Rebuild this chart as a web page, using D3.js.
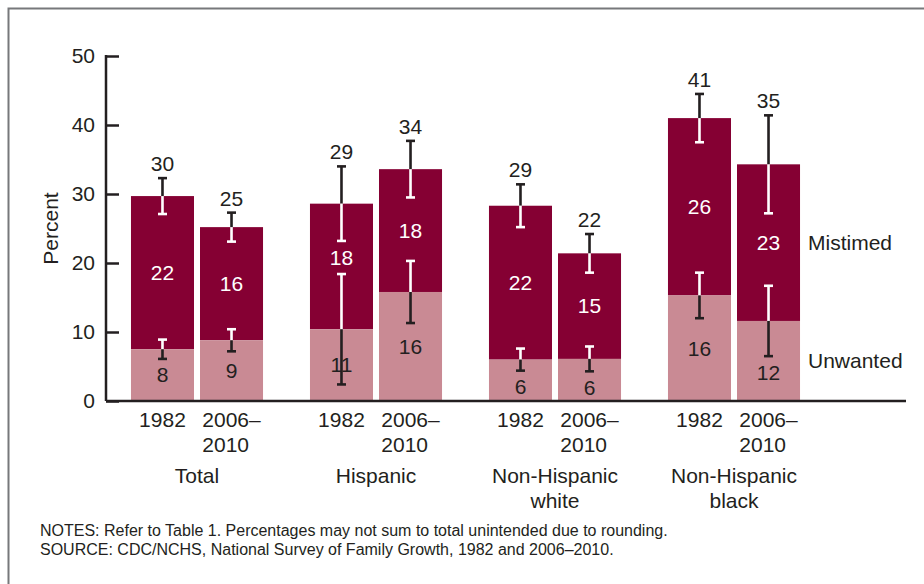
<!DOCTYPE html>
<html>
<head>
<meta charset="utf-8">
<style>
  body { margin: 0; background: #fff; }
  svg { display: block; font-family: "Liberation Sans", Arial, sans-serif; }
</style>
</head>
<body>
<svg width="924" height="584"></svg>
<script src="https://d3js.org/d3.v7.min.js"></script>
<script>

// data
var groups = ["Total", "Hispanic", "Non-Hispanic white", "Non-Hispanic black"];
var groupLines = [["Total"], ["Hispanic"], ["Non-Hispanic", "white"], ["Non-Hispanic", "black"]];
var years = ["1982", "2006–2010"];
var yearLines = [["1982"], ["2006–", "2010"]];

// one entry per bar: group order, then year
var unwanted      = [7.5, 8.8, 10.4, 15.8, 6.0, 6.1, 15.3, 11.6];
var mistimed      = [22.2, 16.4, 18.2, 17.8, 22.3, 15.3, 25.7, 22.7];
var unwantedLabel = [8, 9, 11, 16, 6, 6, 16, 12];
var mistimedLabel = [22, 16, 18, 18, 22, 15, 26, 23];
var totalLabel    = [30, 25, 29, 34, 29, 22, 41, 35];
var unwantedErr   = [1.4, 1.6, 8.0, 4.5, 1.6, 1.8, 3.3, 5.1];
var totalErr      = [2.6, 2.1, 5.4, 4.1, 3.1, 2.8, 3.5, 7.1];

var yTicks = [0, 10, 20, 30, 40, 50];

var ink = "#231f20",
    darkColor = "#850033",
    lightColor = "#c98a94",
    fs = "21px";

var svg = d3.select("svg");

// frame round the figure (open to the right and bottom)
svg.append("path")
    .attr("d", "M8.5,584V8.5H924")
    .attr("fill", "none")
    .attr("stroke", "#77787b")
    .attr("stroke-width", 2);

var x0 = d3.scaleBand()
    .domain(groups)
    .range([107.5, 823.5]);

var x1 = d3.scaleBand()
    .domain(years)
    .range([0, x0.bandwidth()])
    .paddingInner(0.087)
    .paddingOuter(0.34);

var y = d3.scaleLinear()
    .domain([0, 50])
    .range([401, 56]);

var bars = [];
groups.forEach(function(g, gi) {
  years.forEach(function(yr, yi) {
    var i = gi * 2 + yi;
    bars.push({
      group: g, year: yr, i: i,
      unwanted: unwanted[i],
      total: unwanted[i] + mistimed[i]
    });
  });
});

function bx(d) { return x0(d.group) + x1(d.year); }
function cx(d) { return bx(d) + x1.bandwidth() / 2; }

var g = svg.append("g");

// stacked bars
g.selectAll(".mis").data(bars).enter().append("rect")
    .attr("x", bx)
    .attr("width", x1.bandwidth())
    .attr("y", function(d) { return y(d.total); })
    .attr("height", function(d) { return y(d.unwanted) - y(d.total); })
    .attr("fill", darkColor);

g.selectAll(".unw").data(bars).enter().append("rect")
    .attr("x", bx)
    .attr("width", x1.bandwidth())
    .attr("y", function(d) { return y(d.unwanted); })
    .attr("height", function(d) { return y(0) - y(d.unwanted); })
    .attr("fill", lightColor);

// error bars: the half over the dark segment is white
function errorBar(x, v, e, topColor, bottomColor) {
  var top = y(v + e), mid = y(v), bot = y(v - e), cap = 4.5;
  g.append("line").attr("x1", x).attr("x2", x).attr("y1", top).attr("y2", mid)
      .attr("stroke", topColor).attr("stroke-width", 2.6);
  g.append("line").attr("x1", x - cap).attr("x2", x + cap).attr("y1", top).attr("y2", top)
      .attr("stroke", topColor).attr("stroke-width", 2.6);
  g.append("line").attr("x1", x).attr("x2", x).attr("y1", mid).attr("y2", bot)
      .attr("stroke", bottomColor).attr("stroke-width", 2.6);
  g.append("line").attr("x1", x - cap).attr("x2", x + cap).attr("y1", bot).attr("y2", bot)
      .attr("stroke", bottomColor).attr("stroke-width", 2.6);
}

bars.forEach(function(d) {
  errorBar(cx(d), d.total, totalErr[d.i], ink, "#fff");
  errorBar(cx(d), d.unwanted, unwantedErr[d.i], "#fff", ink);
});

// value labels
g.selectAll(".tl").data(bars).enter().append("text")
    .attr("x", cx)
    .attr("y", function(d) { return y(d.total + totalErr[d.i]) - 7; })
    .attr("text-anchor", "middle")
    .attr("fill", ink)
    .style("font-size", fs)
    .text(function(d) { return totalLabel[d.i]; });

// mistimed label: segment middle, or the gap between the two error bars if it would hit one
function misY(d) {
  var mid = (y(d.total) + y(d.unwanted)) / 2,
      a = y(d.total - totalErr[d.i]),
      b = y(d.unwanted + unwantedErr[d.i]);
  if (mid - 9 < a || mid + 9 > b) return (a + b) / 2;
  return mid;
}

// unwanted label: segment middle, or just under the error bar if it would hit it
function unwY(d) {
  var mid = (y(d.unwanted) + y(0)) / 2,
      b = y(d.unwanted - unwantedErr[d.i]);
  if (b > mid - 10 && b + 24 < y(0)) return b + 16;
  return mid;
}

g.selectAll(".ml").data(bars).enter().append("text")
    .attr("x", cx)
    .attr("y", misY)
    .attr("dy", "0.35em")
    .attr("text-anchor", "middle")
    .attr("fill", "#fff")
    .style("font-size", fs)
    .text(function(d) { return mistimedLabel[d.i]; });

g.selectAll(".ul").data(bars).enter().append("text")
    .attr("x", cx)
    .attr("y", unwY)
    .attr("dy", "0.35em")
    .attr("text-anchor", "middle")
    .attr("fill", ink)
    .style("font-size", fs)
    .text(function(d) { return unwantedLabel[d.i]; });

// y axis
var yAxis = svg.append("g")
    .attr("transform", "translate(106,0)")
    .call(d3.axisRight(y).tickValues(yTicks).tickSize(13).tickFormat(d3.format("d")));
yAxis.select(".domain").remove();
yAxis.selectAll(".tick line").attr("stroke", ink).attr("stroke-width", 2.5);
yAxis.selectAll(".tick text")
    .attr("x", -11)
    .attr("text-anchor", "end")
    .attr("fill", ink)
    .style("font-size", fs)
    .style("font-family", "Liberation Sans, Arial, sans-serif");

svg.append("line")
    .attr("x1", 106).attr("x2", 106)
    .attr("y1", y(50) - 1).attr("y2", y(0))
    .attr("stroke", ink).attr("stroke-width", 2.5);

// x axis line
svg.append("line")
    .attr("x1", 106).attr("x2", 906)
    .attr("y1", y(0)).attr("y2", y(0))
    .attr("stroke", ink).attr("stroke-width", 2.5);

svg.append("text")
    .attr("transform", "translate(58," + (y(25)) + ") rotate(-90)")
    .attr("text-anchor", "middle")
    .attr("fill", ink)
    .style("font-size", fs)
    .text("Percent");

// year labels: first line centred on the bar, second line left-aligned under it
bars.forEach(function(d) {
  var lines = yearLines[years.indexOf(d.year)];
  var first = svg.append("text")
      .attr("x", cx(d))
      .attr("y", 427)
      .attr("text-anchor", "middle")
      .attr("fill", ink)
      .style("font-size", fs)
      .text(lines[0]);
  var left = cx(d) - first.node().getComputedTextLength() / 2;
  lines.slice(1).forEach(function(t, k) {
    svg.append("text")
        .attr("x", left)
        .attr("y", 427 + (k + 1) * 25)
        .attr("fill", ink)
        .style("font-size", fs)
        .text(t);
  });
});

// group labels
groups.forEach(function(gr, gi) {
  groupLines[gi].forEach(function(t, k) {
    svg.append("text")
        .attr("x", x0(gr) + x0.bandwidth() / 2)
        .attr("y", 483 + k * 25)
        .attr("text-anchor", "middle")
        .attr("fill", ink)
        .style("font-size", fs)
        .text(t);
  });
});

// series labels beside the last bar
var last = bars[bars.length - 1];
svg.append("text")
    .attr("x", 808)
    .attr("y", (y(last.total) + y(last.unwanted)) / 2)
    .attr("dy", "0.35em")
    .attr("fill", ink)
    .style("font-size", fs)
    .text("Mistimed");
svg.append("text")
    .attr("x", 808)
    .attr("y", (y(last.unwanted) + y(0)) / 2)
    .attr("dy", "0.35em")
    .attr("fill", ink)
    .style("font-size", fs)
    .text("Unwanted");

// notes
svg.append("text")
    .attr("x", 40).attr("y", 536)
    .attr("fill", ink)
    .style("font-size", "16px")
    .text("NOTES: Refer to Table 1. Percentages may not sum to total unintended due to rounding.");
svg.append("text")
    .attr("x", 40).attr("y", 555)
    .attr("fill", ink)
    .style("font-size", "16px")
    .text("SOURCE: CDC/NCHS, National Survey of Family Growth, 1982 and 2006–2010.");

</script>
</body>
</html>
